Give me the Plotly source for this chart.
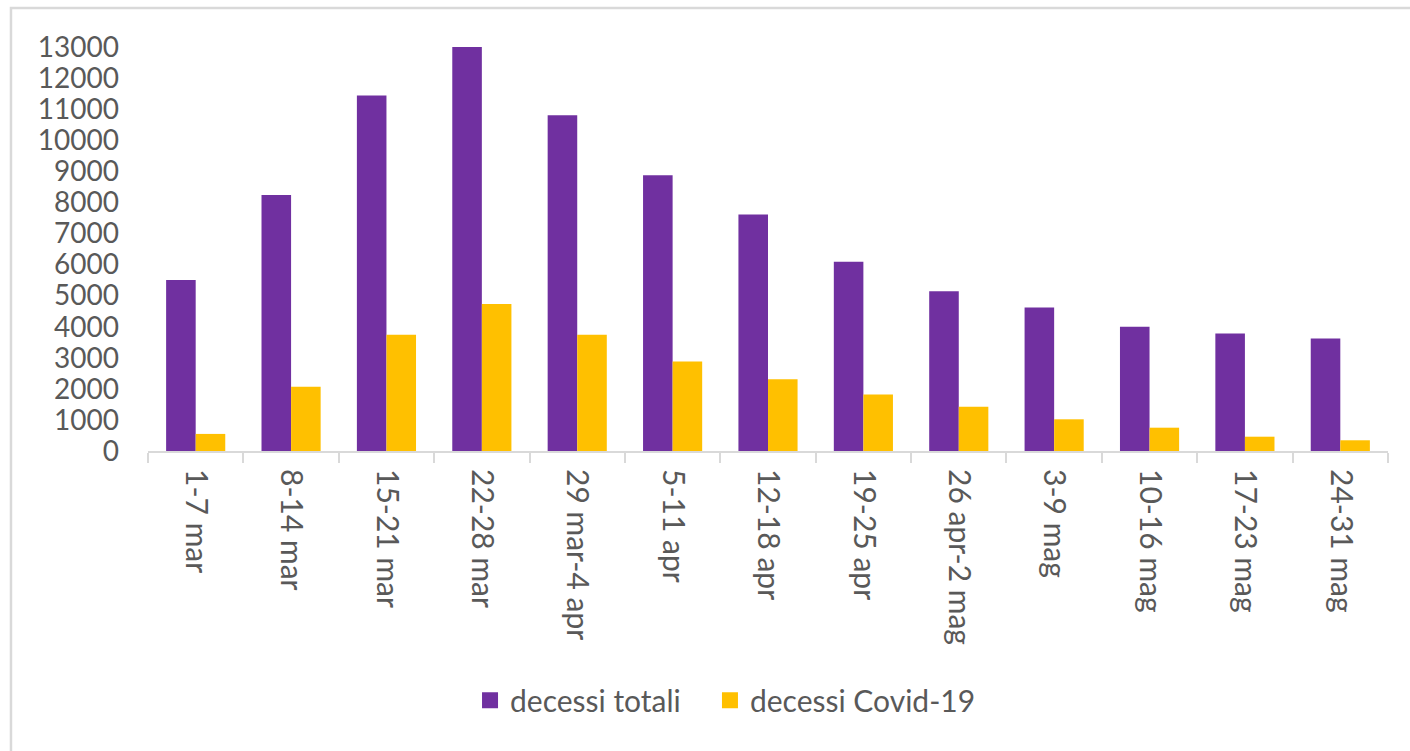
import plotly.graph_objects as go

# Weekly deaths, March–May
weeks = [
    "1-7 mar", "8-14 mar", "15-21 mar", "22-28 mar", "29 mar-4 apr",
    "5-11 apr", "12-18 apr", "19-25 apr", "26 apr-2 mag", "3-9 mag",
    "10-16 mag", "17-23 mag", "24-31 mag",
]
decessi_totali = [5500, 8240, 11440, 13000, 10800, 8870, 7610, 6090, 5140, 4620, 4000, 3780, 3620]
decessi_covid = [550, 2070, 3740, 4730, 3740, 2880, 2310, 1820, 1420, 1020, 750, 460, 345]

y_ticks = list(range(0, 13001, 1000))

PURPLE = "#7030A0"
YELLOW = "#FFC000"
TEXT = "#595959"
LINE = "#D9D9D9"
FONT = "Lato"

fig = go.Figure()
fig.add_trace(go.Bar(x=weeks, y=decessi_totali, name="decessi totali", showlegend=False,
                     marker=dict(color=PURPLE, line=dict(width=0))))
fig.add_trace(go.Bar(x=weeks, y=decessi_covid, name="decessi Covid-19", showlegend=False,
                     marker=dict(color=YELLOW, line=dict(width=0))))

# Legend entries with larger square swatches, one legend box each
for name, color, leg in [("decessi totali", PURPLE, "legend"), ("decessi Covid-19", YELLOW, "legend2")]:
    fig.add_trace(go.Scatter(x=[None], y=[None], mode="markers", name=name, legend=leg,
                             marker=dict(symbol="square", size=17, color=color),
                             showlegend=True))

legend_style = dict(orientation="h", y=-0.617, xanchor="left", yanchor="middle",
                    font=dict(family=FONT, size=30, color=TEXT), itemwidth=30,
                    bgcolor="rgba(0,0,0,0)")

fig.update_layout(
    width=1410, height=751,
    margin=dict(l=148, r=22, t=47, b=300, pad=0),
    paper_bgcolor="white", plot_bgcolor="white",
    barmode="group", bargap=0.38, bargroupgap=0,
    font=dict(family=FONT, size=28, color=TEXT),
    legend=dict(x=0.2597, **legend_style),
    legend2=dict(x=0.4532, **legend_style),
    showlegend=True,
)

fig.update_xaxes(
    type="category", tickangle=90, tickson="boundaries",
    ticks="outside", ticklen=10, tickcolor=LINE, tickwidth=1.5,
    ticklabelstandoff=10,
    showline=True, linecolor=LINE, linewidth=2, layer="above traces",
    showgrid=False, zeroline=False,
    tickfont=dict(family=FONT, size=30, color=TEXT),
)
fig.update_yaxes(
    range=[0, 13000], tickvals=y_ticks, ticktext=[str(v) for v in y_ticks],
    showgrid=False, zeroline=False, showline=False, ticks="",
    ticklabelstandoff=28,
    tickfont=dict(family=FONT, size=28, color=TEXT),
)

# Outer frame around the chart
fig.add_shape(type="rect", xref="paper", yref="paper",
              x0=-0.1105, x1=1.1, y0=-1.0, y1=1.0967,
              line=dict(color=LINE, width=2.5), fillcolor="rgba(0,0,0,0)", layer="below")

fig.write_html("out.html")
